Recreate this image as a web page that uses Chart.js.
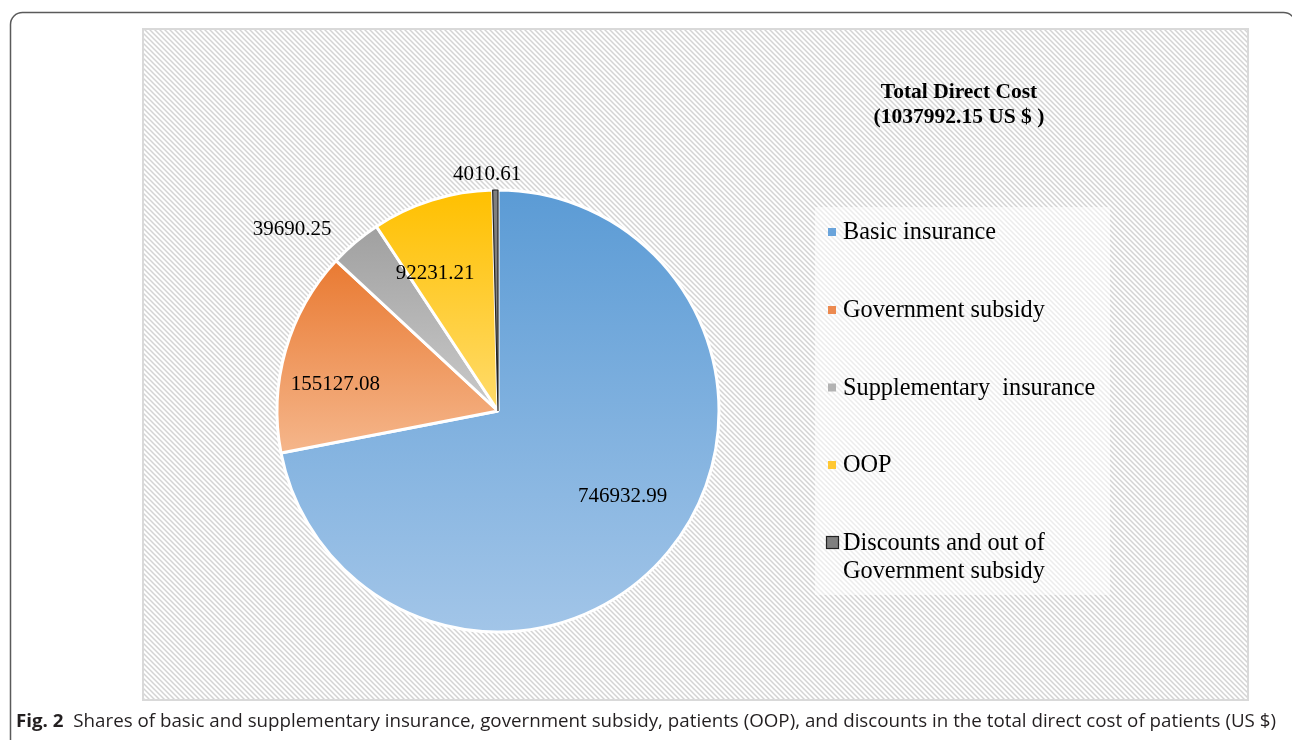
<!DOCTYPE html>
<html>
<head>
<meta charset="utf-8">
<script src="https://cdn.jsdelivr.net/npm/chart.js@4.4.1/dist/chart.umd.min.js"></script>
<style>
html,body{margin:0;padding:0;background:#fff;overflow:hidden}
#wrap{position:relative;width:1292px;height:740px}
canvas{display:block}
</style>
</head>
<body>
<div id="wrap"><canvas id="c" width="1292" height="740"></canvas></div>
<script>
// ---- data ----
const categories = ['Basic insurance', 'Government subsidy', 'Supplementary  insurance', 'OOP', 'Discounts and out of Government subsidy'];
const values = [746932.99, 155127.08, 39690.25, 92231.21, 4010.61];
const valueLabels = ['746932.99', '155127.08', '39690.25', '92231.21', '4010.61'];
const titleLines = ['Total Direct Cost', '(1037992.15 US $ )'];
const captionBold = 'Fig. 2';
const captionText = 'Shares of basic and supplementary insurance, government subsidy, patients (OOP), and discounts in the total direct cost of patients (US $)';

// ---- styles ----
const gradTop = ['#5b9bd5', '#e97a32', '#a0a0a0', '#ffc000', '#7f7f7f'];
const gradBot = ['#a2c5e8', '#f5b68b', '#cacaca', '#ffdb6b', '#7f7f7f'];
const markerColors = ['#6aa4db', '#ec8a50', '#b3b3b3', '#ffc833', '#7f7f7f'];
const borderColors = ['#ffffff', '#ffffff', '#ffffff', '#ffffff', '#262626'];
const borderWidths = [3, 3, 3, 3, 1.2];
// label placement relative to slice middle: angle shift (deg), radius factor
const labelShift = [-5.6, -6.2, -8.1, -7.0, -1.9];
const labelRadius = [0.68, 0.747, 1.247, 0.69, 1.08];

const SERIF = '"Liberation Serif", "Times New Roman", serif';

function makeHatch() {
  const s = 5;
  const p = document.createElement('canvas');
  p.width = s; p.height = s;
  const g = p.getContext('2d');
  g.fillStyle = '#ffffff';
  g.fillRect(0, 0, s, s);
  g.strokeStyle = '#d4d4d4';
  g.lineWidth = 1.5;
  g.beginPath();
  g.moveTo(-1, -1); g.lineTo(s + 1, s + 1);
  g.moveTo(-1 - s, -1); g.lineTo(1, s + 1);
  g.moveTo(s - 1, -1); g.lineTo(2 * s + 1, s + 1);
  g.stroke();
  return p;
}

function wrapText(ctx, text, maxW) {
  const words = text.split(' ');
  const lines = [];
  let cur = '';
  for (const w of words) {
    const t = cur ? cur + ' ' + w : w;
    if (cur && ctx.measureText(t).width > maxW && w !== '') { lines.push(cur); cur = w; }
    else cur = t;
  }
  if (cur) lines.push(cur);
  return lines;
}

const pagePlugin = {
  id: 'page',
  beforeDraw(chart) {
    const ctx = chart.ctx;
    ctx.save();
    ctx.fillStyle = '#ffffff';
    ctx.fillRect(0, 0, chart.width, chart.height);

    // outer rounded frame
    ctx.strokeStyle = '#5a5a5a';
    ctx.lineWidth = 1.5;
    ctx.beginPath();
    ctx.roundRect(10.5, 12.5, 1285, 800, 12);
    ctx.stroke();

    // hatched panel
    const pat = ctx.createPattern(makeHatch(), 'repeat');
    ctx.fillStyle = pat;
    ctx.fillRect(143, 29, 1105, 671);
    ctx.strokeStyle = '#d9d9d9';
    ctx.lineWidth = 2;
    ctx.strokeRect(143, 29, 1105, 671);

    // legend box (lighter)
    ctx.fillStyle = 'rgba(255,255,255,0.55)';
    ctx.fillRect(815, 207, 295, 388);

    // title
    ctx.fillStyle = '#000';
    ctx.font = 'bold 21.5px ' + SERIF;
    ctx.textAlign = 'center';
    ctx.textBaseline = 'alphabetic';
    ctx.fillText(titleLines[0], 959, 97.5);
    ctx.fillText(titleLines[1], 959, 123);

    // legend
    ctx.font = '24.3px ' + SERIF;
    ctx.textAlign = 'left';
    const rowBase = [239, 317, 394.5, 472, 550];
    chart.data.labels.forEach((lab, i) => {
      const lines = wrapText(ctx, lab, 258);
      const y = rowBase[i];
      if (i === 4) {
        ctx.fillStyle = markerColors[i];
        ctx.fillRect(826.5, 536.5, 12, 12);
        ctx.strokeStyle = '#222';
        ctx.lineWidth = 1.2;
        ctx.strokeRect(826.5, 536.5, 12, 12);
      } else {
        ctx.fillStyle = markerColors[i];
        ctx.fillRect(828, y - 11, 8, 8);
      }
      ctx.fillStyle = '#000';
      lines.forEach((ln, k) => ctx.fillText(ln, 843, y + k * 27.7));
    });

    // caption
    const capFontB = 'bold 18.5px "Open Sans", "Noto Sans", sans-serif';
    const capFont = '18.5px "Open Sans", "Noto Sans", sans-serif';
    ctx.font = capFontB;
    const wb = ctx.measureText(captionBold).width;
    ctx.font = capFont;
    const gap = ctx.measureText('  ').width;
    const wt = ctx.measureText(captionText).width;
    const total = wb + gap + wt;
    const sx = (1276 - 16) / total;
    ctx.save();
    ctx.translate(16, 726.5);
    ctx.scale(sx, 1);
    ctx.fillStyle = '#231f20';
    ctx.font = capFontB;
    ctx.fillText(captionBold, 0, 0);
    ctx.font = capFont;
    ctx.fillText(captionText, wb + gap, 0);
    ctx.restore();

    ctx.restore();
  },
  beforeDatasetsDraw(chart) {
    const ctx = chart.ctx;
    const meta = chart.getDatasetMeta(0);
    meta.data.forEach((el, i) => {
      const { x, y, startAngle, endAngle, outerRadius } = el.getProps(['x', 'y', 'startAngle', 'endAngle', 'outerRadius'], true);
      let minY = y, maxY = y;
      const n = 90;
      for (let k = 0; k <= n; k++) {
        const a = startAngle + (endAngle - startAngle) * k / n;
        const py = y + outerRadius * Math.sin(a);
        minY = Math.min(minY, py); maxY = Math.max(maxY, py);
      }
      const g = ctx.createLinearGradient(0, minY, 0, maxY);
      g.addColorStop(0, gradTop[i]);
      g.addColorStop(1, gradBot[i]);
      el.options = Object.assign({}, el.options, { backgroundColor: g });
    });
  },
  afterDatasetsDraw(chart) {
    const ctx = chart.ctx;
    const meta = chart.getDatasetMeta(0);
    ctx.save();
    ctx.font = '21px ' + SERIF;
    ctx.fillStyle = '#000';
    ctx.textAlign = 'center';
    ctx.textBaseline = 'alphabetic';
    meta.data.forEach((el, i) => {
      const { x, y, startAngle, endAngle, outerRadius } = el.getProps(['x', 'y', 'startAngle', 'endAngle', 'outerRadius'], true);
      const mid = (startAngle + endAngle) / 2 + labelShift[i] * Math.PI / 180;
      const r = outerRadius * labelRadius[i];
      const lx = x + r * Math.cos(mid);
      const ly = y + r * Math.sin(mid);
      ctx.fillText(valueLabels[i], lx, ly + 7);
    });
    ctx.restore();
  }
};

new Chart(document.getElementById('c'), {
  type: 'pie',
  data: {
    labels: categories,
    datasets: [{
      data: values,
      backgroundColor: gradTop,
      borderColor: borderColors,
      borderWidth: borderWidths,
      hoverOffset: 0,
      offset: 0
    }]
  },
  options: {
    responsive: false,
    animation: false,
    devicePixelRatio: 1,
    events: [],
    layout: { padding: { left: 275.5, top: 188.5, right: 571.5, bottom: 106.5 } },
    plugins: { legend: { display: false }, title: { display: false }, tooltip: { enabled: false } }
  },
  plugins: [pagePlugin]
});
</script>
</body>
</html>
